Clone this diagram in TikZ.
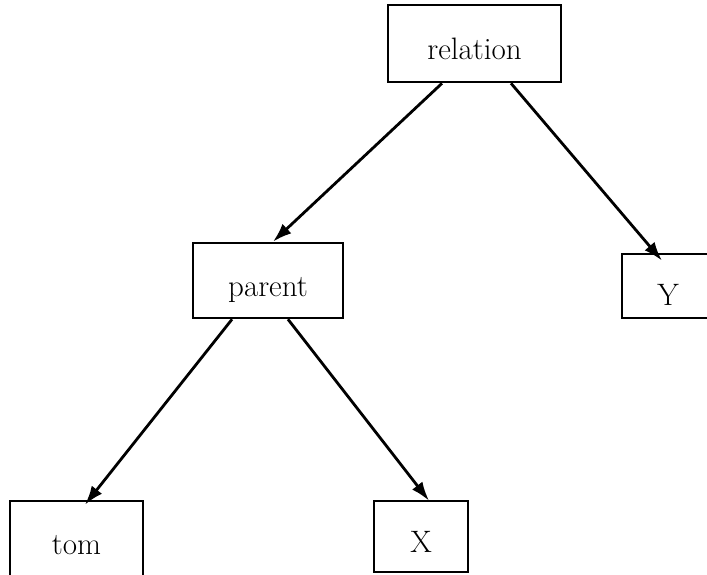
\documentclass[tikz,border=0pt]{standalone}
\usetikzlibrary{arrows.meta,calc}
\begin{document}
\begin{tikzpicture}[x=1pt,y=-1pt,
  box/.style={draw, line width=2.6pt, inner sep=0pt,
    text height=32pt, text depth=0pt,
    font=\fontsize{31}{37}\selectfont},
  link/.style={line width=2.8pt, -{Latex[length=19pt,width=13pt]}}]
  \useasboundingbox (0,0) rectangle (707,575);
  \clip (0,0) rectangle (707,575);

  % tree nodes
  \node[box, minimum width=173pt, minimum height=77pt] (relation) at (474.5,43.5) {relation};
  \node[box, minimum width=150pt, minimum height=75pt] (parent) at (268,280.5) {parent};
  \node[box, minimum width=92pt, minimum height=64pt, text height=38pt] (Y) at (668,286) {Y};
  \node[box, minimum width=133pt, minimum height=82pt, text height=24pt] (tom) at (76.5,542) {tom};
  \node[box, minimum width=94pt, minimum height=71pt] (X) at (421,536.5) {X};

  % edges
  \draw[link] ($(relation.south)+(-32.5,0)$) -- ($(parent.north)+(5,0)$);
  \draw[link] ($(relation.south)+(36.5,0)$) -- ($(Y.north)+(-6,8)$);
  \draw[link] ($(parent.south)+(-36,0)$) -- ($(tom.north)+(8.5,5)$);
  \draw[link] ($(parent.south)+(20,0)$) -- ($(X.north)+(8,1)$);
\end{tikzpicture}
\end{document}
